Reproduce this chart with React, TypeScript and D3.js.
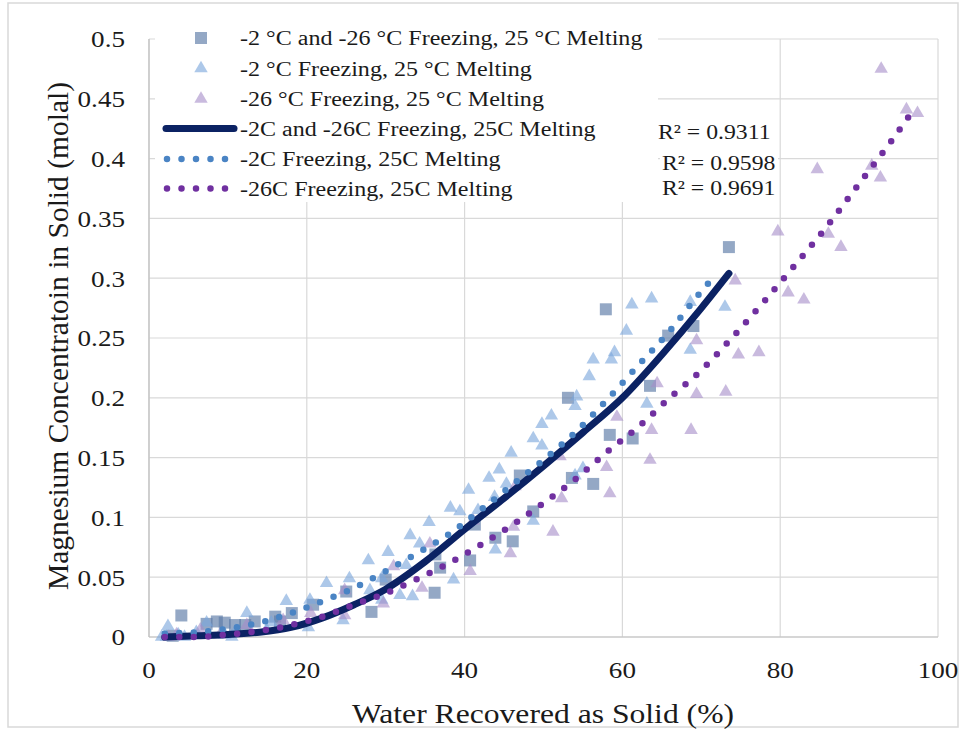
import React from "react";
import * as d3 from "d3";

// ---------- data ----------
const squareX = [3.0, 4.1, 7.3, 8.6, 9.6, 10.9, 12.2, 13.4, 16.0, 16.6, 18.1, 20.8, 25.0, 28.2, 30.0, 36.2, 36.3, 36.9, 40.7, 41.3, 43.9, 46.1, 47.0, 48.7, 53.1, 53.6, 56.3, 57.9, 58.4, 61.3, 63.5, 65.8, 69.0, 73.5];
const squareY = [0.001, 0.018, 0.011, 0.013, 0.012, 0.010, 0.010, 0.013, 0.017, 0.013, 0.020, 0.027, 0.038, 0.021, 0.048, 0.037, 0.069, 0.058, 0.064, 0.094, 0.083, 0.080, 0.135, 0.105, 0.200, 0.133, 0.128, 0.274, 0.169, 0.166, 0.210, 0.252, 0.260, 0.326];

const blueTriX = [1.6, 2.2, 2.4, 3.7, 4.5, 6.0, 7.3, 9.6, 10.5, 11.0, 12.4, 14.9, 15.5, 17.4, 20.2, 20.4, 22.5, 24.6, 25.4, 27.8, 28.0, 29.5, 29.5, 30.3, 31.8, 32.6, 33.1, 33.4, 34.3, 35.5, 38.2, 38.6, 39.4, 40.5, 41.7, 43.1, 43.8, 43.9, 44.4, 45.3, 45.9, 48.7, 48.7, 49.8, 49.8, 51.0, 54.0, 54.0, 54.2, 55.0, 55.8, 56.3, 58.6, 59.0, 60.5, 61.2, 63.1, 63.7, 68.6, 68.6, 73.0];
const blueTriY = [0.0, 0.0, 0.009, 0.002, 0.0, 0.004, 0.012, 0.002, 0.0, 0.005, 0.020, 0.006, 0.012, 0.030, 0.008, 0.031, 0.045, 0.014, 0.049, 0.064, 0.039, 0.049, 0.031, 0.071, 0.035, 0.060, 0.085, 0.034, 0.078, 0.096, 0.108, 0.048, 0.105, 0.123, 0.106, 0.133, 0.117, 0.073, 0.140, 0.128, 0.154, 0.166, 0.097, 0.178, 0.160, 0.185, 0.193, 0.135, 0.201, 0.141, 0.218, 0.232, 0.232, 0.238, 0.256, 0.278, 0.195, 0.283, 0.280, 0.240, 0.276];

const purpleTriX = [2.5, 3.5, 6.5, 9.0, 12.4, 17.0, 20.5, 24.8, 24.8, 29.7, 31.0, 34.6, 35.6, 40.7, 41.1, 45.8, 46.2, 46.4, 51.2, 52.1, 52.3, 58.0, 58.4, 59.3, 63.5, 63.7, 64.4, 68.7, 69.4, 69.4, 73.1, 74.3, 74.7, 77.3, 79.7, 81.0, 83.0, 84.7, 86.1, 87.7, 91.6, 92.7, 92.8, 96.0, 97.4];
const purpleTriY = [0.0, 0.002, 0.006, 0.002, 0.010, 0.014, 0.020, 0.039, 0.018, 0.028, 0.059, 0.041, 0.078, 0.055, 0.097, 0.070, 0.092, 0.126, 0.088, 0.151, 0.116, 0.142, 0.120, 0.184, 0.148, 0.173, 0.212, 0.173, 0.203, 0.248, 0.205, 0.298, 0.236, 0.238, 0.339, 0.288, 0.282, 0.391, 0.337, 0.326, 0.394, 0.384, 0.475, 0.441, 0.438];

// trend lines
const trendAllX = [2, 6, 10, 14, 18, 22, 26, 30, 35, 40, 45, 50, 55, 60, 65, 70, 73.5];
const trendAllY = [0.0, 0.001, 0.002, 0.004, 0.008, 0.016, 0.027, 0.040, 0.063, 0.090, 0.116, 0.143, 0.171, 0.200, 0.236, 0.275, 0.304];

const trendM2X = [2, 6, 10, 14, 18, 22, 26, 30, 34, 38, 42, 46, 50, 54, 58, 62, 66, 70, 72];
const trendM2Y = [0.003, 0.004, 0.007, 0.012, 0.020, 0.030, 0.041, 0.055, 0.070, 0.086, 0.106, 0.127, 0.148, 0.171, 0.198, 0.227, 0.256, 0.289, 0.304];

const trendM26X = [2, 6, 10, 14, 18, 22, 26, 30, 34, 38, 42, 46, 50, 54, 58, 62, 66, 70, 74, 78, 82, 86, 90, 94, 96.5];
const trendM26Y = [0.0, 0.0, 0.002, 0.005, 0.010, 0.017, 0.027, 0.0365, 0.0485, 0.0616, 0.077, 0.0935, 0.112, 0.1317, 0.1545, 0.1755, 0.200, 0.223, 0.251, 0.281, 0.312, 0.344, 0.379, 0.414, 0.437];

const xTicks = [0, 20, 40, 60, 80, 100];
const yTicks = [0, 0.05, 0.1, 0.15, 0.2, 0.25, 0.3, 0.35, 0.4, 0.45, 0.5];

const legendLabels = [
  "-2 °C and -26 °C Freezing, 25 °C Melting",
  "-2 °C Freezing, 25 °C Melting",
  "-26 °C Freezing, 25 °C Melting",
  "-2C and -26C Freezing, 25C Melting",
  "-2C Freezing, 25C Melting",
  "-26C Freezing, 25C Melting",
];
const r2Labels = ["R² = 0.9311", "R² = 0.9598", "R² = 0.9691"];

// ---------- styles ----------
const FONT = "'Liberation Serif', 'Times New Roman', serif";
const SQ_FILL = "#5b7aa6";
const BT_FILL = "#7aa7dc";
const PT_FILL = "#a58cc8";
const NAVY = "#0b2263";
const BLUE = "#4a84c4";
const PURPLE = "#7030a0";
const GRID = "#d9d9d9";
const TXT = "#1a1a1a";
const SX = 1.13; // horizontal stretch of the reference's text

function HText(props: { x: number; y: number; size: number; anchor?: string; children: React.ReactNode }) {
  return (
    <text
      transform={`translate(${props.x},${props.y}) scale(${SX},1)`}
      dy="0.35em"
      textAnchor={props.anchor || "start"}
      fontSize={props.size}
      fill={TXT}
    >
      {props.children}
    </text>
  );
}

export default function App() {
  const W = 964, H = 733;
  const x = d3.scaleLinear().domain([0, 100]).range([149, 938]);
  const y = d3.scaleLinear().domain([0, 0.5]).range([637, 39]);

  const sq = d3.symbol(d3.symbolSquare, 144)() as string;
  const tri = d3.symbol(d3.symbolTriangle, 78)() as string;

  const line = d3
    .line<[number, number]>()
    .x((d) => x(d[0]))
    .y((d) => y(d[1]))
    .curve(d3.curveMonotoneX);

  const zip = (a: number[], b: number[]) => a.map((v, i) => [v, b[i]] as [number, number]);

  const legendRows = [38, 68.5, 99, 128.5, 159, 188.5];

  const r2Pos = [
    { x: 658, y: 132 },
    { x: 662, y: 163 },
    { x: 662, y: 188 },
  ];

  return (
    <svg
      width={W}
      height={H}
      style={{ position: "absolute", left: 0, top: 0, background: "#fff" }}
      fontFamily={FONT}
    >
      <rect x={0} y={0} width={W} height={H} fill="#fff" />
      <rect x={8} y={3} width={950} height={724} fill="none" stroke="#d9d9d9" strokeWidth={1.5} />

      {/* grid */}
      {yTicks.map((t) => (
        <line key={"gy" + t} x1={x(0)} x2={x(100)} y1={y(t)} y2={y(t)} stroke={GRID} strokeWidth={1.2} />
      ))}
      {xTicks.map((t) => (
        <line key={"gx" + t} x1={x(t)} x2={x(t)} y1={y(0)} y2={y(0.5)} stroke={GRID} strokeWidth={1.2} />
      ))}
      <line x1={x(0)} x2={x(0)} y1={y(0)} y2={y(0.5)} stroke="#bfbfbf" strokeWidth={1.2} />
      <line x1={x(0)} x2={x(100)} y1={y(0)} y2={y(0)} stroke="#bfbfbf" strokeWidth={1.2} />

      {/* tick labels */}
      {yTicks.map((t) => (
        <HText key={"ly" + t} x={125} y={y(t)} size={24} anchor="end">
          {String(t)}
        </HText>
      ))}
      {xTicks.map((t) => (
        <HText key={"lx" + t} x={x(t)} y={670} size={24} anchor="middle">
          {String(t)}
        </HText>
      ))}

      {/* axis titles */}
      <HText x={543} y={713} size={28} anchor="middle">
        Water Recovered as Solid (%)
      </HText>
      <text
        transform={`translate(58, ${y(0.25) - 2}) rotate(-90)`}
        dy="0.35em"
        textAnchor="middle"
        fontSize={29.5}
        fill={TXT}
      >
        Magnesium Concentratoin in Solid (molal)
      </text>

      {/* markers */}
      <g>
        {squareX.map((v, i) => (
          <path key={"s" + i} d={sq} transform={`translate(${x(v)},${y(squareY[i])})`} fill={SQ_FILL} fillOpacity={0.65} />
        ))}
        {blueTriX.map((v, i) => (
          <path key={"b" + i} d={tri} transform={`translate(${x(v)},${y(blueTriY[i])})`} fill={BT_FILL} fillOpacity={0.62} />
        ))}
        {purpleTriX.map((v, i) => (
          <path key={"p" + i} d={tri} transform={`translate(${x(v)},${y(purpleTriY[i])})`} fill={PT_FILL} fillOpacity={0.6} />
        ))}
      </g>

      {/* trend lines */}
      <path d={line(zip(trendAllX, trendAllY)) as string} fill="none" stroke={NAVY} strokeWidth={7} strokeLinecap="round" />
      <path
        d={line(zip(trendM2X, trendM2Y)) as string}
        fill="none"
        stroke={BLUE}
        strokeWidth={6.5}
        strokeLinecap="round"
        strokeDasharray="0 14.5"
      />
      <path
        d={line(zip(trendM26X, trendM26Y)) as string}
        fill="none"
        stroke={PURPLE}
        strokeWidth={6.5}
        strokeLinecap="round"
        strokeDasharray="0 14.5"
      />

      {/* legend */}
      <rect x={155} y={21} width={503} height={181} fill="#fff" />
      {legendLabels.map((lab, i) => {
        const cy = legendRows[i];
        let sym: React.ReactNode = null;
        if (i === 0) sym = <path d={sq} transform={`translate(201,${cy})`} fill={SQ_FILL} fillOpacity={0.65} />;
        else if (i === 1) sym = <path d={tri} transform={`translate(201,${cy})`} fill={BT_FILL} fillOpacity={0.62} />;
        else if (i === 2) sym = <path d={tri} transform={`translate(201,${cy})`} fill={PT_FILL} fillOpacity={0.6} />;
        else if (i === 3)
          sym = <line x1={166} x2={234} y1={cy} y2={cy} stroke={NAVY} strokeWidth={7} strokeLinecap="round" />;
        else
          sym = (
            <line
              x1={167}
              x2={235}
              y1={cy}
              y2={cy}
              stroke={i === 4 ? BLUE : PURPLE}
              strokeWidth={6.5}
              strokeLinecap="round"
              strokeDasharray="0 14.5"
            />
          );
        return (
          <g key={"lg" + i}>
            {sym}
            <HText x={240} y={cy} size={21.3}>
              {lab}
            </HText>
          </g>
        );
      })}

      {/* R² labels */}
      {r2Labels.map((lab, i) => (
        <g key={"r2" + i}>
          <rect x={r2Pos[i].x - 2} y={r2Pos[i].y - 12} width={118} height={24} fill="#fff" />
          <HText x={r2Pos[i].x} y={r2Pos[i].y} size={21}>
            {lab}
          </HText>
        </g>
      ))}
    </svg>
  );
}
